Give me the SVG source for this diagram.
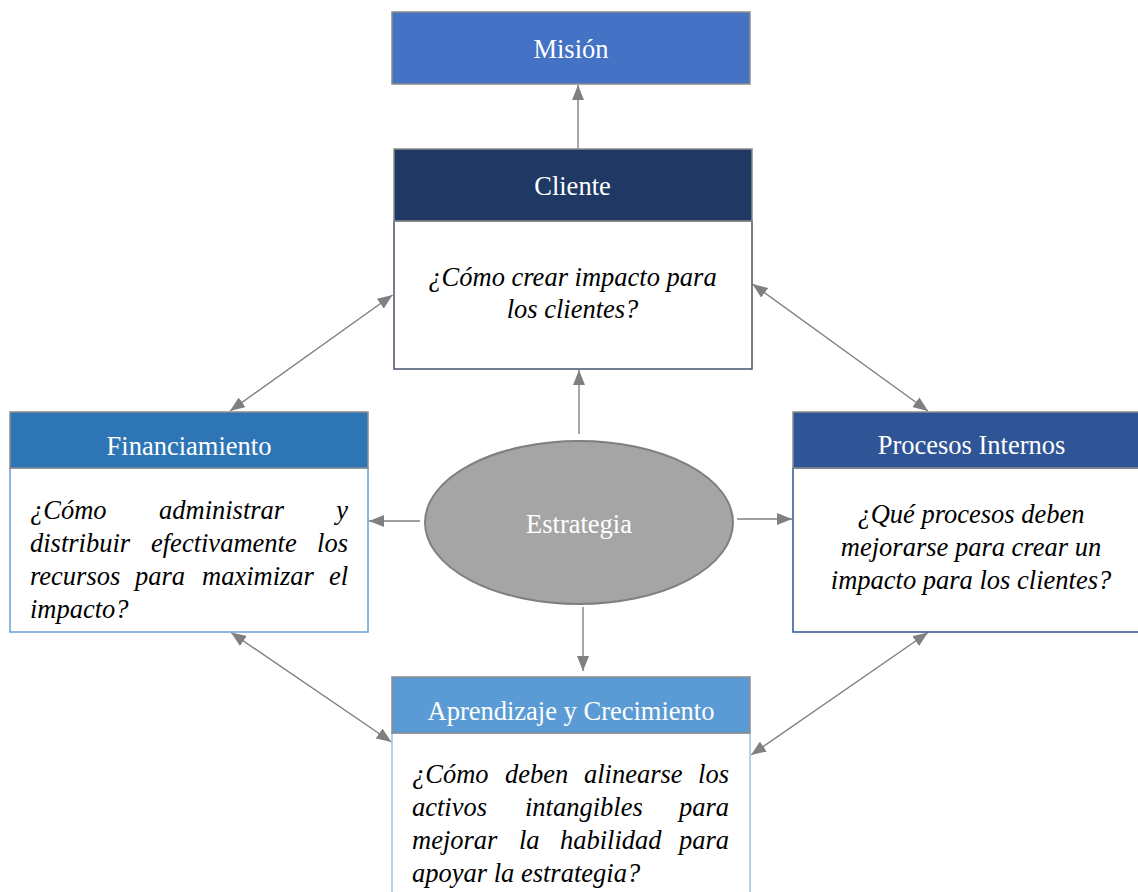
<svg xmlns="http://www.w3.org/2000/svg" width="1138" height="892" viewBox="0 0 1138 892">
<style>
.hd{font-family:"Liberation Serif","Times New Roman",serif;font-size:26.5px;fill:#ffffff;text-anchor:middle}
.bd{font-family:"Liberation Serif","Times New Roman",serif;font-size:26.5px;font-style:italic;fill:#000000}
.c{text-anchor:middle}
.e{text-anchor:end}
.con{stroke:#808080;stroke-width:1.4;fill:none}
</style>
<defs>
<marker id="ah" viewBox="0 0 15 12" refX="15" refY="6" markerWidth="15" markerHeight="12" orient="auto-start-reverse" markerUnits="userSpaceOnUse">
<path d="M0,0 L15,6 L0,12 z" fill="#808080"/>
</marker>
</defs>
<rect width="1138" height="892" fill="#ffffff"/>
<g id="connectors">
<path class="con" d="M578,149 L578,85" marker-end="url(#ah)"/>
<path class="con" d="M579,434 L579,370" marker-end="url(#ah)"/>
<path class="con" d="M420,521 L369,521" marker-end="url(#ah)"/>
<path class="con" d="M737,519 L792,519" marker-end="url(#ah)"/>
<path class="con" d="M583,607 L583,671" marker-end="url(#ah)"/>
<path class="con" d="M392.5,295 L230,411" marker-start="url(#ah)" marker-end="url(#ah)"/>
<path class="con" d="M752.5,284 L928,411" marker-start="url(#ah)" marker-end="url(#ah)"/>
<path class="con" d="M231,632.5 L391.5,742" marker-start="url(#ah)" marker-end="url(#ah)"/>
<path class="con" d="M928,632.5 L751,755" marker-start="url(#ah)" marker-end="url(#ah)"/>
</g>
<g id="mision">
<rect x="392" y="12" width="358" height="72" fill="#4472C4" stroke="#8C8C8C" stroke-width="1.5"/>
<text class="hd" x="571" y="58">Misión</text>
</g>
<g id="cliente">
<rect x="394" y="221" width="358" height="148" fill="#ffffff" stroke="#44546A" stroke-width="1.5"/>
<rect x="394" y="149" width="358" height="72" fill="#203864" stroke="#8C8C8C" stroke-width="1.5"/>
<text class="hd" x="572.5" y="195">Cliente</text>
<text class="bd c" x="572.5" y="286">¿Cómo crear impacto para</text>
<text class="bd c" x="572.5" y="318">los clientes?</text>
</g>
<g id="financiamiento">
<rect x="10" y="468" width="358" height="164" fill="#ffffff" stroke="#6A9FD4" stroke-width="1.5"/>
<rect x="10" y="412" width="358" height="56" fill="#2E75B6" stroke="#8C8C8C" stroke-width="1.5"/>
<text class="hd" x="189" y="455">Financiamiento</text>
<text class="bd" x="30" y="519">¿Cómo</text>
<text class="bd" x="159" y="519">administrar</text>
<text class="bd e" x="348" y="519">y</text>
<text class="bd" x="30" y="552">distribuir</text>
<text class="bd" x="151" y="552">efectivamente</text>
<text class="bd e" x="348" y="552">los</text>
<text class="bd" x="30" y="585">recursos</text>
<text class="bd" x="135" y="585">para</text>
<text class="bd" x="202" y="585">maximizar</text>
<text class="bd e" x="348" y="585">el</text>
<text class="bd" x="30" y="618">impacto?</text>
</g>
<g id="procesos">
<rect x="793" y="468" width="357" height="164" fill="#ffffff" stroke="#2F5597" stroke-width="1.5"/>
<rect x="793" y="412" width="357" height="56" fill="#2F5597" stroke="#8C8C8C" stroke-width="1.5"/>
<text class="hd" x="971.5" y="454">Procesos Internos</text>
<text class="bd c" x="971" y="523">¿Qué procesos deben</text>
<text class="bd c" x="971" y="556">mejorarse para crear un</text>
<text class="bd c" x="971" y="589">impacto para los clientes?</text>
</g>
<g id="aprendizaje">
<rect x="392" y="733" width="358" height="170" fill="#ffffff" stroke="#9DC3E6" stroke-width="1.5"/>
<rect x="392" y="677" width="358" height="56" fill="#5B9BD5" stroke="#8C8C8C" stroke-width="1.5"/>
<text class="hd" x="571" y="720">Aprendizaje y Crecimiento</text>
<text class="bd" x="412" y="783">¿Cómo</text>
<text class="bd" x="505" y="783">deben</text>
<text class="bd" x="584" y="783">alinearse</text>
<text class="bd e" x="729" y="783">los</text>
<text class="bd" x="412" y="816">activos</text>
<text class="bd" x="525" y="816">intangibles</text>
<text class="bd e" x="729" y="816">para</text>
<text class="bd" x="412" y="849">mejorar</text>
<text class="bd" x="519" y="849">la</text>
<text class="bd" x="560" y="849">habilidad</text>
<text class="bd e" x="729" y="849">para</text>
<text class="bd" x="412" y="882">apoyar la estrategia?</text>
</g>
<g id="estrategia">
<ellipse cx="579" cy="522.5" rx="154" ry="81.5" fill="#A5A5A5" stroke="#7F7F7F" stroke-width="2"/>
<text class="hd" x="579" y="533">Estrategia</text>
</g>
</svg>
